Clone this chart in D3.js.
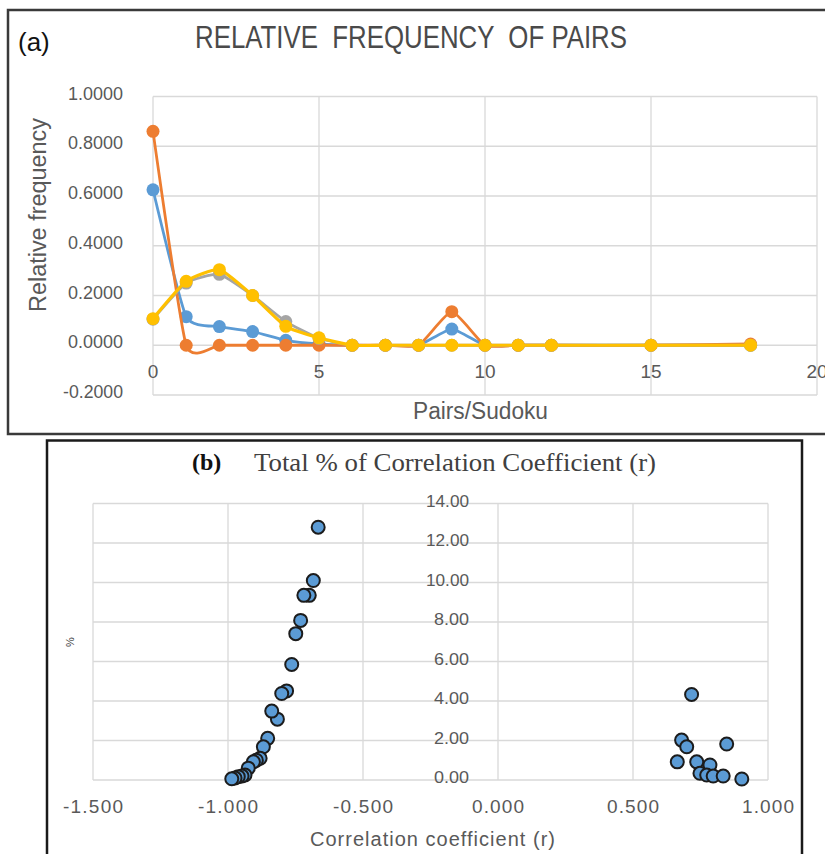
<!DOCTYPE html>
<html>
<head>
<meta charset="utf-8">
<script src="https://cdn.jsdelivr.net/npm/d3@7"></script>
<style>
    body { margin: 0; background: #fff; }
    svg text { font-family: "Liberation Sans", Arial, sans-serif; fill: #595959; }
</style>
</head>
<body>
<svg id="chart" width="825" height="854"></svg>
<script>
// (a) relative frequency of pairs per sudoku
const pairs = [0, 1, 2, 3, 4, 5, 6, 7, 8, 9, 10, 11, 12, 15, 18];
const freqBlue   = [0.625, 0.115, 0.075, 0.055, 0.02, 0.005, 0, 0, 0, 0.065, 0, 0, 0, 0, 0];
const freqOrange = [0.86, 0, 0, 0, 0, 0, 0, 0, 0, 0.135, 0, 0, 0, 0, 0.005];
const freqGray   = [0.105, 0.25, 0.285, 0.2, 0.095, 0.028, 0, 0, 0, 0, 0, 0, 0, 0, 0];
const freqYellow = [0.107, 0.257, 0.304, 0.2, 0.076, 0.03, 0, 0, 0, 0, 0, 0, 0, 0, 0];
const seriesColors = ["#5B9BD5", "#ED7D31", "#A5A5A5", "#FFC000"];
const freqTicks = [-0.2, 0, 0.2, 0.4, 0.6, 0.8, 1.0];
const pairTicks = [0, 5, 10, 15, 20];

// (b) total % of correlation coefficient
const rNeg   = [-0.666, -0.684, -0.699, -0.719, -0.731, -0.749, -0.764, -0.783, -0.801, -0.817, -0.838, -0.853, -0.869, -0.881, -0.895, -0.906, -0.925, -0.937, -0.948, -0.962, -0.974, -0.986];
const pctNeg = [12.8, 10.1, 9.35, 9.35, 8.08, 7.41, 5.85, 4.51, 4.38, 3.08, 3.49, 2.11, 1.68, 1.1, 1.0, 0.92, 0.6, 0.25, 0.2, 0.17, 0.1, 0.06];
const rPos   = [0.717, 0.68, 0.699, 0.847, 0.664, 0.736, 0.785, 0.748, 0.773, 0.797, 0.834, 0.903];
const pctPos = [4.33, 2.02, 1.68, 1.82, 0.92, 0.92, 0.76, 0.34, 0.25, 0.2, 0.2, 0.05];
const rTicks = [-1.5, -1.0, -0.5, 0, 0.5, 1.0];
const pctTicks = [0, 2, 4, 6, 8, 10, 12, 14];

const svg = d3.select("#chart");
const grid = "#d9d9d9";
// excel style labels use a plain hyphen for the minus sign
const fmt = spec => d => d3.format(spec)(d).replace("\u2212", "-");

// ---------- panel (a) ----------
svg.append("path")
    .attr("d", "M826,10 H8 V434 H826")
    .attr("fill", "none")
    .attr("stroke", "#3a3a3a")
    .attr("stroke-width", 2.5);

const xA = d3.scaleLinear().domain([0, 20]).range([153, 817]);
const yA = d3.scaleLinear().domain([-0.2, 1.0]).range([395, 96.5]);

const gA = svg.append("g");

gA.append("g").selectAll("line").data(freqTicks).join("line")
    .attr("x1", xA(0)).attr("x2", xA(20))
    .attr("y1", d => yA(d)).attr("y2", d => yA(d))
    .attr("stroke", grid).attr("stroke-width", 1.3);

gA.append("g").selectAll("line").data(pairTicks).join("line")
    .attr("x1", d => xA(d)).attr("x2", d => xA(d))
    .attr("y1", yA(1.0)).attr("y2", yA(-0.2))
    .attr("stroke", grid).attr("stroke-width", 1.3);

gA.append("g").selectAll("text").data(freqTicks).join("text")
    .attr("x", 123).attr("y", d => yA(d) + 3)
    .attr("text-anchor", "end")
    .style("font-size", "18px")
    .attr("textLength", d => d < 0 ? 60 : 55)
    .attr("lengthAdjust", "spacingAndGlyphs")
    .text(fmt(".4f"));

gA.append("g").selectAll("text").data(pairTicks).join("text")
    .attr("x", d => xA(d)).attr("y", 378)
    .attr("text-anchor", "middle")
    .style("font-size", "19px")
    .text(d => d);

const series = [freqBlue, freqOrange, freqGray, freqYellow];
const lineA = d3.line()
    .x((d, i) => xA(pairs[i]))
    .y(d => yA(d))
    .curve(d3.curveCardinal.tension(0.5));

series.forEach((vals, k) => {
    const g = gA.append("g");
    g.append("path")
        .attr("d", lineA(vals))
        .attr("fill", "none")
        .attr("stroke", seriesColors[k])
        .attr("stroke-width", k == 3 ? 3.2 : 2.8);
    g.selectAll("circle").data(vals).join("circle")
        .attr("cx", (d, i) => xA(pairs[i]))
        .attr("cy", d => yA(d))
        .attr("r", 6.5)
        .attr("fill", seriesColors[k]);
});

svg.append("text")
    .attr("x", 18).attr("y", 51)
    .style("font-size", "26px").style("fill", "#111")
    .text("(a)");

svg.append("text")
    .attr("x", 195).attr("y", 48)
    .style("font-size", "31px").style("white-space", "pre").style("fill", "#4a4a4a")
    .attr("textLength", 432).attr("lengthAdjust", "spacingAndGlyphs")
    .text("RELATIVE  FREQUENCY  OF PAIRS");

svg.append("text")
    .attr("transform", "translate(46,312) rotate(-90)")
    .style("font-size", "23px")
    .attr("textLength", 194).attr("lengthAdjust", "spacingAndGlyphs")
    .text("Relative frequency");

svg.append("text")
    .attr("x", 413).attr("y", 419)
    .style("font-size", "23px")
    .attr("textLength", 135).attr("lengthAdjust", "spacingAndGlyphs")
    .text("Pairs/Sudoku");

// ---------- panel (b) ----------
svg.append("path")
    .attr("d", "M47,856 V440.5 H802 V856")
    .attr("fill", "none")
    .attr("stroke", "#1a1a1a")
    .attr("stroke-width", 2.5);

const xB = d3.scaleLinear().domain([-1.5, 1.0]).range([93, 768]);
const yB = d3.scaleLinear().domain([0, 14]).range([780, 503.5]);

const gB = svg.append("g");

gB.append("g").selectAll("line").data(pctTicks).join("line")
    .attr("x1", xB(-1.5)).attr("x2", xB(1.0))
    .attr("y1", d => yB(d)).attr("y2", d => yB(d))
    .attr("stroke", grid).attr("stroke-width", 1.3);

gB.append("g").selectAll("line").data(rTicks).join("line")
    .attr("x1", d => xB(d)).attr("x2", d => xB(d))
    .attr("y1", yB(14)).attr("y2", yB(0))
    .attr("stroke", grid).attr("stroke-width", 1.3);

gB.append("g").selectAll("text").data(pctTicks).join("text")
    .attr("x", 469).attr("y", d => yB(d) + 3)
    .attr("text-anchor", "end")
    .style("font-size", "17px")
    .attr("textLength", d => d >= 10 ? 43 : 35)
    .attr("lengthAdjust", "spacingAndGlyphs")
    .text(fmt(".2f"));

gB.append("g").selectAll("text").data(rTicks).join("text")
    .attr("x", d => xB(d)).attr("y", 813)
    .attr("text-anchor", "middle")
    .style("font-size", "19px")
    .attr("textLength", d => d < 0 ? 60 : 52)
    .attr("lengthAdjust", "spacing")
    .text(fmt(".3f"));

const pts = rNeg.map((r, i) => [r, pctNeg[i]])
    .concat(rPos.map((r, i) => [r, pctPos[i]]));

gB.append("g").selectAll("circle").data(pts).join("circle")
    .attr("cx", d => xB(d[0]))
    .attr("cy", d => yB(d[1]))
    .attr("r", 6.5)
    .attr("fill", "#5B9BD5")
    .attr("stroke", "#1c1c1c")
    .attr("stroke-width", 2);

svg.append("text")
    .attr("x", 192).attr("y", 470)
    .style("font-family", "'Liberation Serif', 'Times New Roman', serif")
    .style("font-weight", "bold").style("font-size", "24px").style("fill", "#111")
    .text("(b)");

svg.append("text")
    .attr("x", 254).attr("y", 471)
    .style("font-family", "'Liberation Serif', 'Times New Roman', serif")
    .style("font-size", "25px").style("fill", "#404040")
    .attr("textLength", 402).attr("lengthAdjust", "spacingAndGlyphs")
    .text("Total % of Correlation Coefficient (r)");

svg.append("text")
    .attr("transform", "translate(74,642) rotate(-90)")
    .attr("text-anchor", "middle")
    .style("font-size", "11px").style("fill", "#404040")
    .text("%");

svg.append("text")
    .attr("x", 310).attr("y", 846)
    .style("font-size", "20px")
    .attr("textLength", 245).attr("lengthAdjust", "spacing")
    .text("Correlation coefficient (r)");
</script>
</body>
</html>
